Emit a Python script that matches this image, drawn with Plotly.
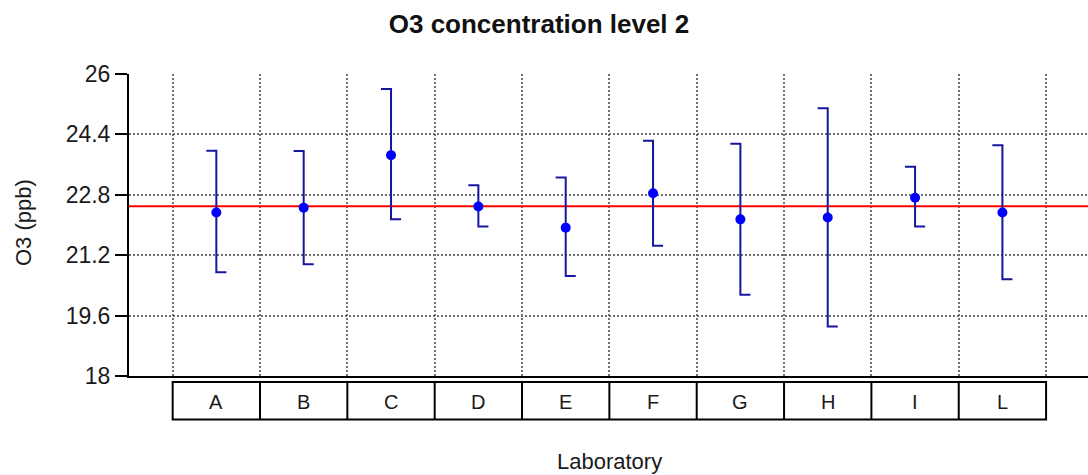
import plotly.graph_objects as go

labs = ["A", "B", "C", "D", "E", "F", "G", "H", "I", "L"]
means = [22.33, 22.46, 23.85, 22.49, 21.93, 22.84, 22.15, 22.20, 22.72, 22.33]
uppers = [23.97, 23.96, 25.60, 23.05, 23.26, 24.23, 24.15, 25.09, 23.54, 24.11]
lowers = [20.75, 20.96, 22.15, 21.96, 20.65, 21.45, 20.15, 19.31, 21.96, 20.56]
ref_value = 22.5
y_ticks = [18, 19.6, 21.2, 22.8, 24.4, 26]

W, H = 1088, 475
L_M, T_M, B_M = 129, 74, 99
plot_h = H - T_M - B_M

def py(px):
    # pixel row -> paper coordinate
    return (H - B_M - px) / plot_h

FONT = "Liberation Sans, Arial, sans-serif"
pos = list(range(len(labs)))
cap = 0.115

# whiskers: top cap to the left, bottom cap to the right
wx, wy = [], []
for i, (u, l) in enumerate(zip(uppers, lowers)):
    wx += [i - cap, i, i, i + cap, None]
    wy += [u, u, l, l, None]

fig = go.Figure()
fig.add_trace(go.Scatter(x=[-1, 9.98], y=[ref_value, ref_value], mode="lines",
                         line=dict(color="#ff0000", width=2), hoverinfo="skip",
                         showlegend=False))
fig.add_trace(go.Scatter(x=wx, y=wy, mode="lines",
                         line=dict(color="#1616a0", width=2), showlegend=False))
fig.add_trace(go.Scatter(x=pos, y=means, mode="markers",
                         marker=dict(color="#0000ff", size=10), showlegend=False))

shapes = []
y_top, y_bot = py(382), py(419.5)
shapes.append(dict(type="rect", xref="x", yref="paper", x0=-0.5, x1=len(labs) - 0.5,
                   y0=y_bot, y1=y_top, line=dict(color="black", width=2)))
for k in range(1, len(labs)):
    shapes.append(dict(type="line", xref="x", yref="paper", x0=k - 0.5, x1=k - 0.5,
                       y0=y_bot, y1=y_top, line=dict(color="black", width=2)))

annotations = []
for i, lab in enumerate(labs):
    annotations.append(dict(x=i, y=py(402), xref="x", yref="paper", text=lab,
                            showarrow=False, yanchor="middle",
                            font=dict(family=FONT, size=20, color="#1a1a1a")))
annotations.append(dict(x=(len(labs) - 1) / 2, y=py(462), xref="x", yref="paper",
                        text="Laboratory", showarrow=False, yanchor="middle",
                        font=dict(family=FONT, size=22, color="#1a1a1a")))
annotations.append(dict(x=(23 - L_M) / (W - L_M), y=py(223), xref="paper", yref="paper",
                        text="O3 (ppb)", textangle=-90, showarrow=False,
                        xanchor="center", yanchor="middle",
                        font=dict(family=FONT, size=22, color="#1a1a1a")))

GRID = dict(showgrid=True, gridcolor="#707070", griddash="2px,2px", gridwidth=1.5)

fig.update_layout(
    width=W, height=H,
    margin=dict(l=L_M, r=0, t=T_M, b=B_M),
    paper_bgcolor="white", plot_bgcolor="white",
    title=dict(text="<b>O3 concentration level 2</b>", x=539 / W, xref="container",
               xanchor="center", y=1 - 24 / H, yanchor="middle",
               font=dict(family=FONT, size=26, color="#111111")),
    xaxis=dict(range=[-1, 9.98], tickvals=[k - 0.5 for k in range(len(labs) + 1)],
               showticklabels=False, ticks="", zeroline=False, showline=True,
               linecolor="black", linewidth=2, **GRID),
    yaxis=dict(range=[18, 26], tickvals=y_ticks, ticktext=[str(v) for v in y_ticks],
               ticks="outside", ticklen=12, tickwidth=2, tickcolor="black",
               zeroline=False, showline=True, linecolor="black", linewidth=2,
               tickfont=dict(family=FONT, size=23, color="#1a1a1a"), **GRID),
    shapes=shapes, annotations=annotations,
)

fig.write_html("out.html", config={"displayModeBar": False},
               post_script="document.body.style.margin='0';document.body.style.overflow='hidden';")
